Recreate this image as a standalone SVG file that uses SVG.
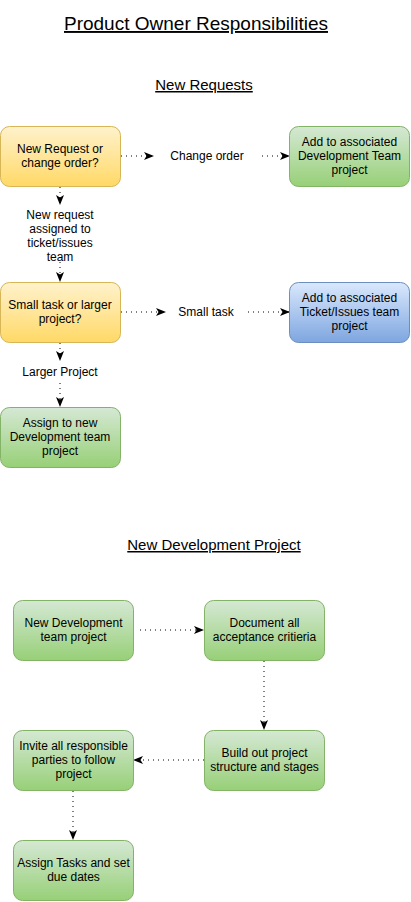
<svg xmlns="http://www.w3.org/2000/svg" width="411" height="902" viewBox="0 0 411 902">
<defs>
<linearGradient id="gy" x1="0" y1="0" x2="0" y2="1"><stop offset="0" stop-color="#fff2cc"/><stop offset="1" stop-color="#ffd966"/></linearGradient>
<linearGradient id="gg" x1="0" y1="0" x2="0" y2="1"><stop offset="0" stop-color="#d5e8d4"/><stop offset="1" stop-color="#97d077"/></linearGradient>
<linearGradient id="gb" x1="0" y1="0" x2="0" y2="1"><stop offset="0" stop-color="#dae8fc"/><stop offset="1" stop-color="#7ea6e0"/></linearGradient>
<marker id="ar" viewBox="0 0 10 8" refX="9" refY="4" markerWidth="10" markerHeight="8" markerUnits="userSpaceOnUse" orient="auto">
<path d="M0,0 L10,4 L0,8 L2.5,4 Z" fill="#000"/>
</marker>
</defs>
<style>
text{font-family:"Liberation Sans",Arial,sans-serif;font-size:12px;fill:#000;text-anchor:middle}
.y{fill:url(#gy);stroke:#d6b656}
.g{fill:url(#gg);stroke:#82b366}
.b{fill:url(#gb);stroke:#6c8ebf}
.e{fill:none;stroke:#000;stroke-width:1;stroke-dasharray:1 4;marker-end:url(#ar)}
.h1{font-size:19px}
.h2{font-size:15px}
</style>
<rect width="411" height="902" fill="#fff"/>
<g id="title"><text class="h1" x="196" y="30" text-decoration="underline">Product Owner Responsibilities</text></g>
<g id="h-new-requests"><text class="h2" x="204" y="90" text-decoration="underline">New Requests</text></g>
<g id="h-new-dev"><text class="h2" x="214" y="550" text-decoration="underline">New Development Project</text></g>

<g id="connectors">
<path class="e" d="M121,156 L153,156"/>
<path class="e" d="M262,156 L289,156"/>
<path class="e" d="M60,187 L60,204"/>
<path class="e" d="M60,262 L60,281"/>
<path class="e" d="M121,312 L165,312"/>
<path class="e" d="M248,312 L289,312"/>
<path class="e" d="M60,343 L60,360"/>
<path class="e" d="M60,383 L60,406"/>
<path class="e" d="M140,630 L203,630"/>
<path class="e" d="M264,661 L264,729"/>
<path class="e" d="M204,760 L134,760"/>
<path class="e" d="M73,791 L73,839"/>
</g>

<g id="lbl-change"><text x="207" y="160">Change order</text></g>
<g id="lbl-newreq"><text x="60" y="219">New request</text><text x="60" y="233">assigned to</text><text x="60" y="247">ticket/issues</text><text x="60" y="261">team</text></g>
<g id="lbl-small"><text x="206" y="316">Small task</text></g>
<g id="lbl-larger"><text x="60" y="376">Larger Project</text></g>

<g id="n1"><rect class="y" x="0.5" y="126.5" width="120" height="60" rx="9"/><text x="60" y="153">New Request or</text><text x="60" y="167">change order?</text></g>
<g id="n2"><rect class="g" x="289.5" y="126.5" width="120" height="60" rx="9"/><text x="349.5" y="146">Add to associated</text><text x="349.5" y="160">Development Team</text><text x="349.5" y="174">project</text></g>
<g id="n3"><rect class="y" x="0.5" y="282.5" width="120" height="60" rx="9"/><text x="60" y="309">Small task or larger</text><text x="60" y="323">project?</text></g>
<g id="n4"><rect class="b" x="289.5" y="282.5" width="120" height="60" rx="9"/><text x="349.5" y="302">Add to associated</text><text x="349.5" y="316">Ticket/Issues team</text><text x="349.5" y="330">project</text></g>
<g id="n5"><rect class="g" x="0.5" y="407.5" width="120" height="60" rx="9"/><text x="60" y="427">Assign to new</text><text x="60" y="441">Development team</text><text x="60" y="455">project</text></g>

<g id="d1"><rect class="g" x="13.5" y="600.5" width="120" height="60" rx="9"/><text x="73.5" y="627">New Development</text><text x="73.5" y="641">team project</text></g>
<g id="d2"><rect class="g" x="204.5" y="600.5" width="120" height="60" rx="9"/><text x="264.5" y="627">Document all</text><text x="264.5" y="641">acceptance critieria</text></g>
<g id="d3"><rect class="g" x="204.5" y="730.5" width="120" height="60" rx="9"/><text x="264.5" y="757">Build out project</text><text x="264.5" y="771">structure and stages</text></g>
<g id="d4"><rect class="g" x="13.5" y="730.5" width="120" height="60" rx="9"/><text x="73.5" y="750">Invite all responsible</text><text x="73.5" y="764">parties to follow</text><text x="73.5" y="778">project</text></g>
<g id="d5"><rect class="g" x="13.5" y="840.5" width="120" height="60" rx="9"/><text x="73.5" y="867">Assign Tasks and set</text><text x="73.5" y="881">due dates</text></g>
</svg>
